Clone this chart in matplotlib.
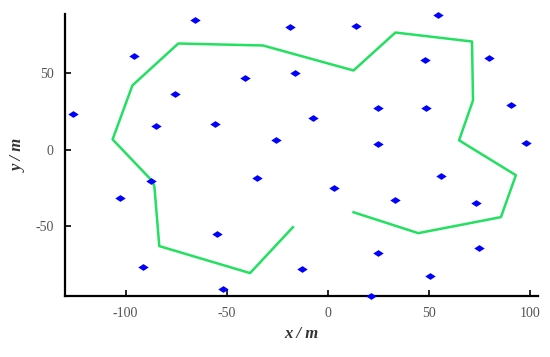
import matplotlib

matplotlib.use("Agg")
import matplotlib.pyplot as plt
from matplotlib.path import Path

# sensor nodes (blue markers)
node_x = [-65.5, -95.6, -126.0, -75.4, -84.7, -55.7, -40.9, -18.7, -16.3, 13.8,
          54.7, 48.3, 79.8, -7.4, 25.1, 48.8, 90.6, 25.1, 98.0, -25.6,
          -35.0, 3.0, 33.5, 56.0, 73.4, 74.9, 50.7, 25.1, -12.8, -54.7,
          -87.2, -102.5, -91.6, -51.7, 21.2]
node_y = [84.7, 61.1, 23.1, 36.2, 15.3, 16.6, 46.7, 80.1, 50.0, 81.4,
          88.6, 58.5, 59.8, 20.5, 27.0, 27.0, 29.0, 3.5, 4.1, 6.1,
          -18.8, -25.0, -33.0, -17.0, -35.0, -64.6, -83.0, -68.0, -78.3, -55.6,
          -20.8, -32.0, -77.0, -91.4, -96.0]

# path (green polyline)
path_x = [-17.2, -38.4, -83.3, -85.7, -86.5, -106.4, -96.6, -73.9, -32.0, 12.8,
          33.5, 71.4, 71.9, 65.0, 93.1, 85.7, 44.8, 12.8]
path_y = [-50.9, -81.0, -63.3, -24.7, -21.0, 6.7, 42.1, 69.6, 68.3, 51.9,
          76.8, 70.9, 32.3, 6.1, -16.8, -44.3, -54.8, -41.1]

xticks = [-100, -50, 0, 50, 100]
yticks = [-50, 0, 50]

plt.rcParams["font.family"] = ["Liberation Serif", "DejaVu Serif"]
plt.rcParams["axes.unicode_minus"] = False

# flat diamond, wider than tall
flat_diamond = Path([(-1, 0), (0, 0.65), (1, 0), (0, -0.65), (-1, 0)],
                    [Path.MOVETO, Path.LINETO, Path.LINETO, Path.LINETO,
                     Path.CLOSEPOLY])

fig = plt.figure(figsize=(5.5, 3.57), dpi=100)
ax = fig.add_axes([0.118, 0.171, 0.860, 0.790])

ax.plot(path_x, path_y, color="#22e060", lw=1.8, zorder=2)
ax.plot(node_x, node_y, linestyle="none", marker=flat_diamond,
        color="#0000ff", ms=7.5, mew=0, zorder=3, clip_on=False)

ax.set_xlim(-130, 104)
ax.set_ylim(-96, 89)
ax.set_xticks(xticks)
ax.set_yticks(yticks)
ax.tick_params(direction="in", length=4, width=1.2, labelsize=10,
               labelcolor="#555555", pad=8)

for side in ("top", "right"):
    ax.spines[side].set_visible(False)
for side in ("left", "bottom"):
    ax.spines[side].set_linewidth(1.6)

ax.set_xlabel("x / m", fontsize=12, style="italic", fontweight="bold",
              color="#333333", labelpad=4)
ax.set_ylabel("y / m", fontsize=12, style="italic", fontweight="bold",
              color="#333333", labelpad=6)

fig.savefig("out.png", dpi=100)
